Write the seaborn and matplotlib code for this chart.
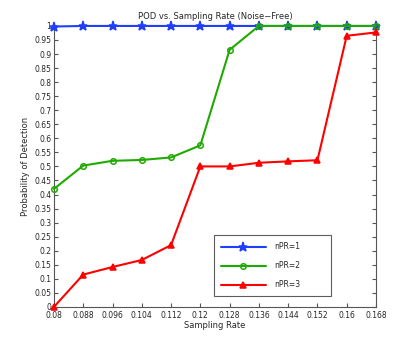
import matplotlib
matplotlib.use("Agg")
import matplotlib.pyplot as plt
import seaborn as sns
import numpy as np

# Werte
sampling_rate = [0.08, 0.088, 0.096, 0.104, 0.112, 0.12, 0.128, 0.136, 0.144, 0.152, 0.16, 0.168]
pod_npr1 = [0.998, 1, 1, 1, 1, 1, 1, 1, 1, 1, 1, 1]
pod_npr2 = [0.42, 0.503, 0.52, 0.523, 0.532, 0.575, 0.915, 1, 1, 1, 1, 1]
pod_npr3 = [0.0, 0.115, 0.142, 0.167, 0.22, 0.5, 0.5, 0.513, 0.518, 0.522, 0.965, 0.977]
series_names = ["nPR=1", "nPR=2", "nPR=3"]
x_ticks = [0.08, 0.088, 0.096, 0.104, 0.112, 0.12, 0.128, 0.136, 0.144, 0.152, 0.16, 0.168]

sns.set_style("white")
plt.rcParams["font.family"] = ["DejaVu Sans"]

fig = plt.figure(figsize=(4.15, 3.46), dpi=100)
ax = fig.add_axes([0.130, 0.113, 0.776, 0.812])

stile = [
    (pod_npr1, "#1f3fff", "*", 6.5, "#1f3fff"),
    (pod_npr2, "#1faa00", "o", 4, "none"),
    (pod_npr3, "#ff0000", "^", 5, "#ff0000"),
]
for (werte, farbe, mk, ms, fc), name in zip(stile, series_names):
    sns.lineplot(x=sampling_rate, y=werte, color=farbe, marker=mk, markersize=ms,
                 markerfacecolor=fc, markeredgecolor=farbe, markeredgewidth=1.1,
                 linewidth=1.5, label=name, clip_on=False, zorder=3, ax=ax)

ax.set_xlim(0.08, 0.168)
ax.set_ylim(0, 1)
ax.set_xticks(x_ticks)
ax.set_xticklabels([f"{t:g}" for t in x_ticks])
yt = np.round(np.arange(0, 1.0001, 0.05), 2)
ax.set_yticks(yt)
ax.set_yticklabels([f"{t:g}" for t in yt])
ax.tick_params(labelsize=5.5, length=3, direction="in", color="#555555", pad=2,
               right=True, top=False, left=True, bottom=True)
ax.tick_params(axis="x", pad=3)
for s in ax.spines.values():
    s.set_color("#555555")
    s.set_linewidth(0.8)
ax.spines["top"].set_visible(False)

ax.set_title("POD vs. Sampling Rate (Noise\u2212Free)", fontsize=6, pad=5)
ax.set_xlabel("Sampling Rate", fontsize=6, labelpad=1)
ax.set_ylabel("Probability of Detection", fontsize=6, labelpad=3)

leg = ax.legend(loc="lower left",
                bbox_to_anchor=(0.484, 0.025, 0.389, 0.195), mode="expand",
                fontsize=5.5, handlelength=6, frameon=True, fancybox=False,
                edgecolor="#333333", labelspacing=1.3, borderpad=0.9,
                handletextpad=1.0)
leg.get_frame().set_linewidth(0.8)

fig.savefig("out.png", dpi=100)
